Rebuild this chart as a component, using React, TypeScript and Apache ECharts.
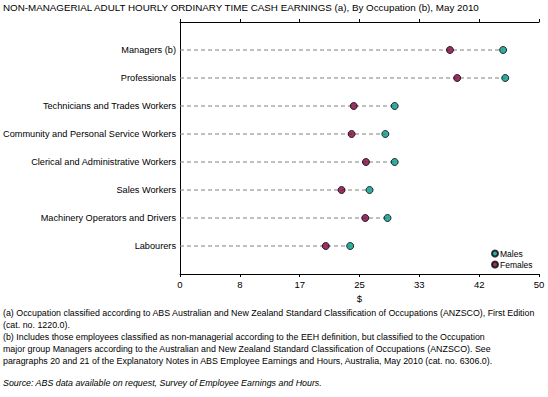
import React, { useEffect, useRef } from "react";
import * as echarts from "echarts";

const categories = [
  "Managers (b)",
  "Professionals",
  "Technicians and Trades Workers",
  "Community and Personal Service Workers",
  "Clerical and Administrative Workers",
  "Sales Workers",
  "Machinery Operators and Drivers",
  "Labourers",
];
const males = [45.0, 45.3, 29.9, 28.6, 29.9, 26.4, 28.9, 23.7];
const females = [37.6, 38.6, 24.2, 23.9, 25.9, 22.5, 25.8, 20.3];

const title =
  "NON-MANAGERIAL ADULT HOURLY ORDINARY TIME CASH EARNINGS (a), By Occupation (b), May 2010";
const footnotes = [
  "(a) Occupation classified according to ABS Australian and New Zealand Standard Classification of Occupations (ANZSCO), First Edition",
  "(cat. no. 1220.0).",
  "(b) Includes those employees classified as non-managerial according to the EEH definition, but classified to the Occupation",
  "major group Managers according to the Australian and New Zealand Standard Classification of Occupations (ANZSCO). See",
  "paragraphs 20 and 21 of the Explanatory Notes in ABS Employee Earnings and Hours, Australia, May 2010 (cat. no. 6306.0).",
];
const source = "Source: ABS data available on request, Survey of Employee Earnings and Hours.";

const FONT = "Liberation Sans, Arial, sans-serif";
const MALE_COLOR = "#00998a";
const FEMALE_COLOR = "#80003f";

export default function App() {
  const ref = useRef<HTMLDivElement>(null);
  useEffect(() => {
    if (!ref.current) return;
    const chart = echarts.init(ref.current, null, { renderer: "svg" });
    const yData = ["", ...categories, ""];
    const lineData = categories.map((c, i) => [Math.max(males[i], females[i]), c]);
    chart.setOption({
      animation: false,
      textStyle: { fontFamily: FONT },
      grid: { left: 180, top: 22, width: 359, height: 252, containLabel: false },
      legend: {
        orient: "vertical",
        left: 486,
        top: 244,
        itemWidth: 6,
        itemHeight: 6,
        itemGap: 2,
        textStyle: { fontSize: 8.5, color: "#000", fontFamily: FONT, padding: [0, 0, 0, -3] },
        data: [
          { name: "Males", icon: "circle" },
          { name: "Females", icon: "circle" },
        ],
      },
      xAxis: [
        {
          type: "value",
          min: 0,
          max: 50,
          interval: 50 / 6,
          position: "bottom",
          name: "$",
          nameLocation: "middle",
          nameGap: 19,
          nameTextStyle: { fontSize: 9.5, color: "#000", fontFamily: FONT },
          axisLine: { show: true, lineStyle: { color: "#000", width: 1 } },
          axisTick: { show: true, length: 3, lineStyle: { color: "#000" } },
          axisLabel: {
            fontSize: 9.5,
            color: "#000",
            margin: 5,
            fontFamily: FONT,
            formatter: (v: number) => String(Math.round(v)),
          },
          splitLine: { show: false },
        },
        {
          type: "value",
          min: 0,
          max: 50,
          interval: 50 / 6,
          position: "top",
          axisLine: { show: true, lineStyle: { color: "#000", width: 1 } },
          axisTick: { show: true, length: 3, lineStyle: { color: "#000" } },
          axisLabel: { show: false },
          splitLine: { show: false },
        },
      ],
      yAxis: [
        {
          type: "category",
          data: yData,
          inverse: true,
          boundaryGap: false,
          axisLine: { show: true, lineStyle: { color: "#000", width: 1 } },
          axisTick: { show: false },
          axisLabel: { fontSize: 9.2, color: "#000", margin: 4, fontFamily: FONT, interval: 0 },
          splitLine: { show: false },
        },
        {
          type: "category",
          data: yData,
          inverse: true,
          boundaryGap: false,
          position: "right",
          axisLine: { show: true, lineStyle: { color: "#000", width: 1 } },
          axisTick: { show: false },
          axisLabel: { show: false },
          splitLine: { show: false },
        },
      ],
      series: [
        {
          type: "custom",
          name: "guide",
          xAxisIndex: 0,
          yAxisIndex: 0,
          silent: true,
          z: 1,
          data: lineData,
          encode: { x: 0, y: 1 },
          renderItem: (params: any, api: any) => {
            const p0 = api.coord([0, api.value(1)]);
            const p1 = api.coord([api.value(0), api.value(1)]);
            return {
              type: "line",
              shape: { x1: p0[0], y1: p0[1], x2: p1[0], y2: p1[1] },
              style: { stroke: "#808080", lineWidth: 1, lineDash: [4, 3] },
            };
          },
        },
        {
          type: "scatter",
          name: "Males",
          z: 3,
          symbol: "circle",
          symbolSize: 7,
          itemStyle: { color: MALE_COLOR, borderColor: "#000", borderWidth: 1 },
          data: categories.map((c, i) => [males[i], c]),
        },
        {
          type: "scatter",
          name: "Females",
          z: 3,
          symbol: "circle",
          symbolSize: 7,
          itemStyle: { color: FEMALE_COLOR, borderColor: "#000", borderWidth: 1 },
          data: categories.map((c, i) => [females[i], c]),
        },
      ],
      graphic: [
        {
          type: "text",
          left: 3,
          top: 2,
          style: { text: title, fontSize: 9.8, fill: "#000", fontFamily: FONT },
        },
        ...footnotes.map((t, i) => ({
          type: "text",
          left: 3,
          top: 308.5 + i * 12,
          style: { text: t, fontSize: 8.85, fill: "#000", fontFamily: FONT },
        })),
        {
          type: "text",
          left: 3,
          top: 378.5,
          style: { text: source, fontSize: 8.85, fill: "#000", fontFamily: FONT, fontStyle: "italic" },
        },
      ],
    });
    return () => chart.dispose();
  }, []);
  return (
    <div
      ref={ref}
      style={{ position: "fixed", left: 0, top: 0, width: 548, height: 397, background: "#fff" }}
    />
  );
}
